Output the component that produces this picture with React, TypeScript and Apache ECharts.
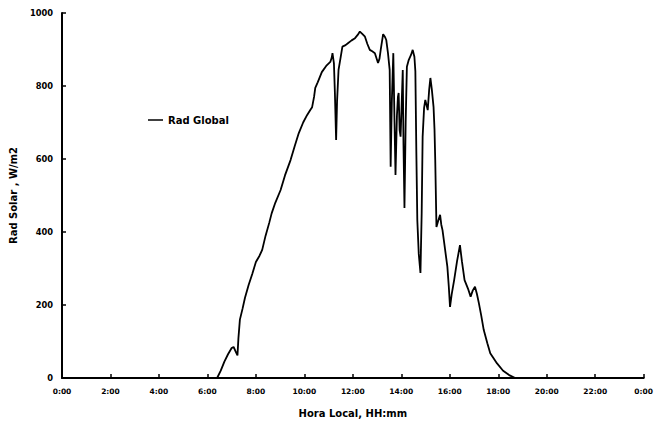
import React, { useEffect, useRef } from "react";
import * as echarts from "echarts";

// Hora local (horas decimales)
const hours: number[] = [
  0, 6.4, 6.55, 6.7, 6.85, 7.0, 7.08, 7.18, 7.24, 7.28, 7.34, 7.45, 7.55, 7.7, 7.85,
  8.0, 8.15, 8.26, 8.4, 8.55, 8.65, 8.8, 9.02, 9.2, 9.43, 9.6, 9.77, 9.95, 10.11, 10.25,
  10.32, 10.4, 10.45, 10.55, 10.72, 10.9, 11.07, 11.13, 11.16, 11.22, 11.26, 11.31, 11.35,
  11.41, 11.5, 11.57, 11.7, 11.81, 11.95, 12.09, 12.2, 12.29, 12.4, 12.5, 12.6, 12.7, 12.8,
  12.91, 13.04, 13.1, 13.15, 13.25, 13.32, 13.38, 13.45, 13.52, 13.56, 13.61, 13.67, 13.72,
  13.76, 13.82, 13.86, 13.89, 13.93, 13.97, 14.02, 14.06, 14.09, 14.13, 14.18, 14.23, 14.3,
  14.4, 14.47, 14.54, 14.58, 14.62, 14.66, 14.72, 14.79, 14.84, 14.88, 14.94, 14.99, 15.05,
  15.09, 15.15, 15.2, 15.26, 15.33, 15.37, 15.4, 15.45, 15.52, 15.6, 15.65, 15.7, 15.8,
  15.9, 15.96, 16.01, 16.08, 16.18, 16.3, 16.42, 16.5, 16.61, 16.75, 16.86, 16.95, 17.04,
  17.12, 17.2, 17.3, 17.4, 17.55, 17.67, 17.8, 17.95, 18.2, 18.45, 18.7, 24,
];

// Rad Global, W/m2
const radGlobal: number[] = [
  0, 0, 20, 45, 65, 82, 85, 70, 62, 110, 160, 190, 220, 255, 285,
  318, 335, 351, 390, 425, 451, 480, 515, 555, 597, 635, 671, 700, 720, 735,
  742, 770, 795, 810, 838, 855, 866, 878, 890, 862, 780, 652, 760,
  844, 880, 908, 912, 918, 925, 931, 940, 949, 942, 935, 915, 899, 895,
  890, 863, 875, 899, 942, 935, 926, 890, 844, 579, 760, 890, 700,
  556, 720, 770, 781, 679, 661, 760, 844, 640, 466, 700, 853, 870,
  885, 899, 880, 840, 620, 433, 340, 288, 450, 661, 740, 762, 745,
  734, 790, 822, 790, 743, 680, 597, 414, 430, 447, 420, 405, 355,
  305, 250, 195, 230, 268, 320, 364, 320, 268, 245, 223, 240, 250,
  230, 205, 170, 132, 95, 68, 55, 40, 20, 8, 0, 0,
];

const xTickLabels: string[] = [
  "0:00", "2:00", "4:00", "6:00", "8:00", "10:00", "12:00",
  "14:00", "16:00", "18:00", "20:00", "22:00", "0:00",
];

const yTickLabels: string[] = ["0", "200", "400", "600", "800", "1000"];

const seriesName = "Rad Global";
const xAxisName = "Hora Local, HH:mm";
const yAxisName = "Rad Solar , W/m2";

const FONT = "DejaVu Sans";

export default function App() {
  const ref = useRef<HTMLDivElement>(null);

  useEffect(() => {
    if (!ref.current) return;
    const chart = echarts.init(ref.current, undefined, { renderer: "svg" });
    const data = hours.map((h, i) => [h, radGlobal[i]]);
    chart.setOption({
      animation: false,
      backgroundColor: "#ffffff",
      grid: { left: 61, right: 9, top: 13, bottom: 46 },
      legend: {
        left: 148,
        top: 115,
        padding: 0,
        icon: "rect",
        itemWidth: 15,
        itemHeight: 1.5,
        data: [seriesName],
        textStyle: { color: "#000", fontFamily: FONT, fontWeight: "bold", fontSize: 10 },
      },
      xAxis: {
        type: "value",
        min: 0,
        max: 24,
        interval: 2,
        name: xAxisName,
        nameLocation: "middle",
        nameGap: 30,
        nameTextStyle: { color: "#000", fontFamily: FONT, fontWeight: "bold", fontSize: 10 },
        axisLine: { lineStyle: { color: "#000", width: 2 } },
        axisTick: { show: true, inside: true, length: 4, lineStyle: { color: "#000", width: 1.5 } },
        splitLine: { show: false },
        axisLabel: {
          color: "#000",
          fontFamily: FONT,
          fontWeight: "bold",
          fontSize: 7.5,
          margin: 9,
          formatter: (v: number) => xTickLabels[Math.round(v / 2)] ?? "",
        },
      },
      yAxis: {
        type: "value",
        min: 0,
        max: 1000,
        interval: 200,
        name: yAxisName,
        nameLocation: "middle",
        nameGap: 44,
        nameTextStyle: { color: "#000", fontFamily: FONT, fontWeight: "bold", fontSize: 10 },
        axisLine: { show: true, lineStyle: { color: "#000", width: 2 } },
        axisTick: { show: true, inside: true, length: 4, lineStyle: { color: "#000", width: 1.5 } },
        splitLine: { show: false },
        axisLabel: {
          color: "#000",
          fontFamily: FONT,
          fontWeight: "bold",
          fontSize: 8.3,
          margin: 9,
          formatter: (v: number) => yTickLabels[Math.round(v / 200)] ?? "",
        },
      },
      series: [
        {
          name: seriesName,
          type: "line",
          data,
          symbol: "none",
          lineStyle: { color: "#000", width: 1.8 },
          itemStyle: { color: "#000" },
        },
      ],
    });
    return () => chart.dispose();
  }, []);

  return (
    <div
      ref={ref}
      style={{ position: "fixed", left: 0, top: 0, width: 656, height: 424, background: "#fff" }}
    />
  );
}
